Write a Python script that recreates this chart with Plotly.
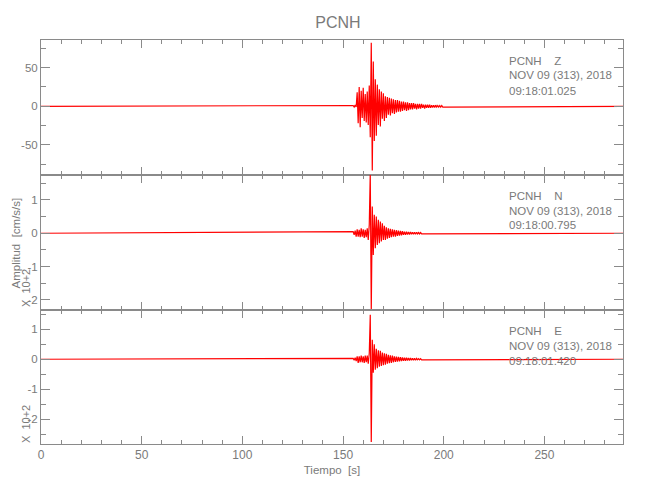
import plotly.graph_objects as go
from plotly.subplots import make_subplots

# ---------------- data ----------------
STATION = "PCNH"
COMPONENTS = ["Z", "N", "E"]
DATE_LABEL = "NOV 09 (313), 2018"
START_TIMES = ["09:18:01.025", "09:18:00.795", "09:18:01.420"]

T_MAX = 289.0       # record length [s]
T0 = 155.0          # start of the sampled event window [s]
DT = 0.5            # sample interval of the window [s]

# amplitudes, cm/s/s (Z)  and  cm/s/s x 10^-2 (N, E)
Z_VALUES = [1, -1, 1.5, -1,
            18, -22, 25, -27, 20, -15, 24, -19, 16, -21, 19, -24, 27, -40, 82, -83,
            58, -45, 35, -38, 28, -24, 22, -26, 19, -16, 17, -19, 13, -15, 12, -11, 11, -12, 10, -9,
            9, -10, 8, -8, 8, -7, 7, -7, 6, -6, 6, -5, 5, -6, 5, -5, 4, -4, 4, -4,
            4, -3, 3, -4, 3, -3, 3, -3, 3, -2, 2, -3, 2, -2, 2, -2, 2, -2, 1.5, -1.5,
            1.5, -1.5, 1.5, -1, 1, -1, 1, -1, 1, -1]
N_VALUES = [0.05, -0.05, 0.08, -0.1, 0.12, -0.1, 0.1, -0.12, 0.15, -0.1, 0.12, -0.14, 0.1, -0.12, 0.15, -0.2, 0.25,
            1.8, -2.35, 0.8, -0.65, 0.55, -0.45, 0.5, -0.35, 0.4, -0.3, 0.35, -0.25, 0.3, -0.2,
            0.22, -0.2, 0.18, -0.16, 0.15, -0.14, 0.13, -0.12, 0.12, -0.1, 0.1, -0.1, 0.09, -0.08,
            0.08, -0.07, 0.07, -0.06, 0.06, -0.05, 0.05, -0.05, 0.05, -0.04, 0.04, -0.04, 0.04, -0.03, 0.03, -0.03,
            0.03, -0.03, 0.03, -0.02, 0.02, -0.02, 0.02, -0.02]
E_VALUES = [0.03, -0.03, 0.05, -0.06, 0.1, -0.12, 0.1, -0.1, 0.12, -0.1, 0.1, -0.12, 0.12, -0.1, 0.12, -0.15, 0.2,
            1.48, -2.75, 0.65, -0.45, 0.5, -0.35, 0.35, -0.3, 0.3, -0.25, 0.28, -0.22, 0.22, -0.2,
            0.2, -0.18, 0.18, -0.15, 0.15, -0.13, 0.13, -0.12, 0.12, -0.1, 0.1, -0.09, 0.09, -0.08,
            0.08, -0.07, 0.07, -0.06, 0.06, -0.05, 0.05, -0.05, 0.05, -0.04, 0.04, -0.04, 0.04, -0.03, 0.03, -0.03,
            0.03, -0.03, 0.03, -0.02, 0.02, -0.02, 0.02, -0.02]

Y_RANGES = [[-88.8, 85.7], [-2.30, 1.745], [-2.82, 1.64]]
Y_TICKVALS = [[-50, 0, 50], [-2, -1, 0, 1], [-2, -1, 0, 1]]
Y_TICKTEXT = [["-50", "0", "50"], ["-2", "-1", "0", "1"], ["-2", "-1", "0", "1"]]
Y_MINOR = [25, 0.5, 0.5]

# ---------------- style ----------------
FONT = "Liberation Sans, Arial, sans-serif"
GRAY = "#7a7a7a"
AX = "#8a8a8a"
OFF = 8                      # page offset of the figure (body margin)
W, H = 642, 492
ML, MR, MT, MB = 33, 27, 32, 56
PH = H - MT - MB
PW = W - ML - MR


def trace_xy(values):
    t = [0.0] + [T0 + i * DT for i in range(len(values))] + [T_MAX]
    v = [0.0] + list(values) + [0.0]
    return t, v


def px(x_page):
    return (x_page - OFF - ML) / PW


def py(y_page):
    return (H - MB - (y_page - OFF)) / PH


fig = make_subplots(rows=3, cols=1, shared_xaxes=True, vertical_spacing=0,
                    row_heights=[135, 135, 134])

for i, vals in enumerate([Z_VALUES, N_VALUES, E_VALUES]):
    t, v = trace_xy(vals)
    fig.add_trace(go.Scatter(x=t, y=v, mode="lines",
                             line=dict(color="#ff0000", width=1.2),
                             showlegend=False, hoverinfo="skip"),
                  row=i + 1, col=1)
    fig.update_yaxes(range=Y_RANGES[i], tickvals=Y_TICKVALS[i],
                     ticktext=Y_TICKTEXT[i],
                     minor=dict(dtick=Y_MINOR[i], tick0=0, ticks="inside",
                                ticklen=5, tickcolor=AX),
                     row=i + 1, col=1)

fig.update_yaxes(showgrid=False, zeroline=False, showline=True, linecolor=AX,
                 linewidth=1, mirror="allticks", ticks="inside", ticklen=9,
                 tickcolor=AX, tickfont=dict(family=FONT, size=11.5, color=GRAY))
fig.update_xaxes(range=[0, T_MAX], dtick=50, tick0=0, showgrid=False,
                 zeroline=False, showline=True, linecolor=AX, linewidth=1,
                 mirror="allticks", ticks="inside", ticklen=8, tickcolor=AX,
                 minor=dict(dtick=10, tick0=0, ticks="inside", ticklen=4,
                            tickcolor=AX),
                 tickfont=dict(family=FONT, size=12, color=GRAY))
fig.update_xaxes(title=dict(text="Tiempo  [s]", standoff=4,
                            font=dict(family=FONT, size=11.5, color=GRAY)),
                 row=3, col=1)

annotations = []
panel_tops = [40, 175, 310]
for i, comp in enumerate(COMPONENTS):
    lines = [f"{STATION}    {comp}", DATE_LABEL, START_TIMES[i]]
    for k, txt in enumerate(lines):
        annotations.append(dict(text=txt, xref="paper", yref="paper",
                                x=px(507), y=py(panel_tops[i] + 20.5 + 15 * k),
                                xanchor="left", yanchor="middle",
                                showarrow=False,
                                font=dict(family=FONT, size=11.5, color=GRAY)))

annotations.append(dict(text="Amplitud  [cm/s/s]", xref="paper", yref="paper",
                        x=px(15.5), y=py(243), textangle=-90,
                        xanchor="center", yanchor="middle", showarrow=False,
                        font=dict(family=FONT, size=11.5, color=GRAY)))
for ypx in [288, 424]:
    annotations.append(dict(text="X  10+2", xref="paper", yref="paper",
                            x=px(26), y=py(ypx), textangle=-90,
                            xanchor="center", yanchor="middle", showarrow=False,
                            font=dict(family=FONT, size=11, color=GRAY)))

fig.update_layout(
    width=W, height=H,
    margin=dict(l=ML, r=MR, t=MT, b=MB),
    paper_bgcolor="white", plot_bgcolor="white",
    title=dict(text=STATION, x=(338 - OFF) / W, xanchor="center",
               y=1 - (22 - OFF) / H, yanchor="middle",
               font=dict(family=FONT, size=16, color=GRAY)),
    annotations=annotations,
    font=dict(family=FONT, color=GRAY),
)

fig.write_html("out.html")
